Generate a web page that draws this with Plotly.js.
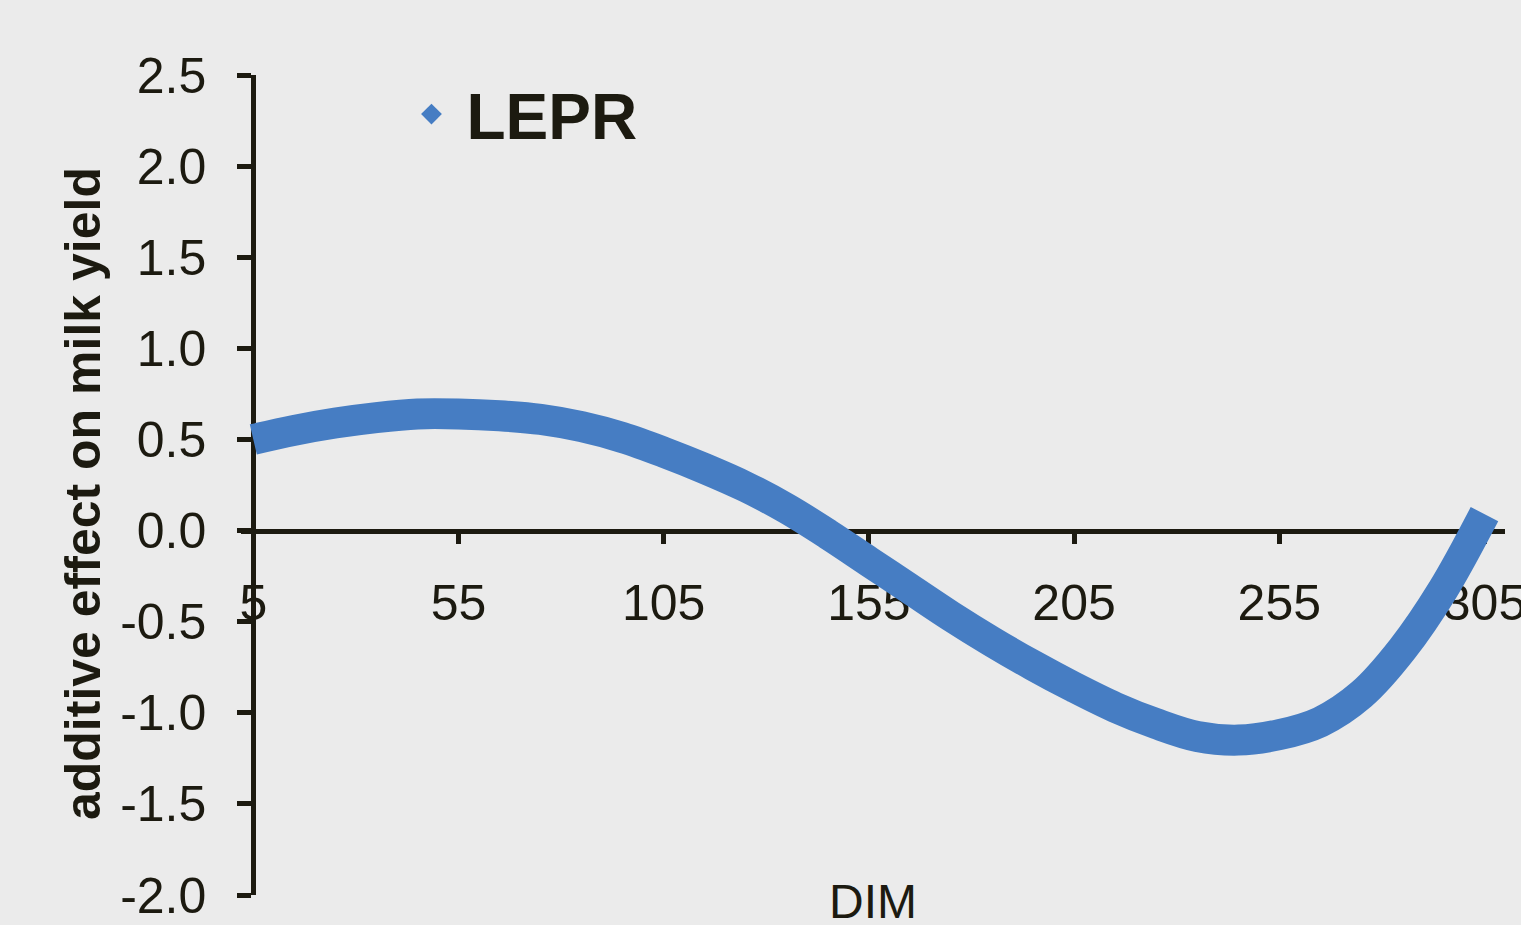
<!DOCTYPE html>
<html>
<head>
<meta charset="utf-8">
<script src="https://cdn.plot.ly/plotly-3.0.1.min.js"></script>
<style>html,body{margin:0;padding:0;background:#ebebeb;}#chart{width:1521px;height:925px;}</style>
</head>
<body>
<div id="chart"></div>
<script>
// Data
const seriesName = "LEPR";
const dim = [5, 15, 25, 35, 45, 55, 65, 75, 85, 95, 105, 115, 125, 135, 145, 155, 165, 175, 185, 195, 205, 215, 225, 235, 245, 255, 265, 275, 285, 295, 305];
const effect = [0.50, 0.55, 0.59, 0.62, 0.64, 0.64, 0.63, 0.61, 0.57, 0.51, 0.43, 0.34, 0.24, 0.12, -0.02, -0.17, -0.32, -0.47, -0.61, -0.74, -0.86, -0.97, -1.06, -1.13, -1.15, -1.12, -1.05, -0.90, -0.65, -0.32, 0.09];
const xTickVals = [5, 55, 105, 155, 205, 255, 305];
const xTickText = ["5", "55", "105", "155", "205", "255", "305"];
const yTickVals = [-2.0, -1.5, -1.0, -0.5, 0.0, 0.5, 1.0, 1.5, 2.0, 2.5];
const yTickText = ["-2.0", "-1.5", "-1.0", "-0.5", "0.0", "0.5", "1.0", "1.5", "2.0", "2.5"];
const xTitle = "DIM";
const yTitle = "additive effect on milk yield";

const blue = "rgb(70,125,195)";
const ink = "#1c1a10";
const fam = "Liberation Sans, Arial, sans-serif";

const traces = [
  {
    x: dim, y: effect, type: "scatter", mode: "lines",
    line: {color: blue, width: 31, shape: "spline", smoothing: 1},
    showlegend: false, hoverinfo: "x+y"
  },
  {
    x: [null], y: [null], type: "scatter", mode: "markers", name: seriesName,
    marker: {symbol: "diamond", size: 22, color: blue}, showlegend: true
  }
];

const layout = {
  width: 1521, height: 925,
  paper_bgcolor: "#ebebeb", plot_bgcolor: "#ebebeb",
  margin: {l: 241, r: 16, t: 75, b: 30, pad: 0},
  font: {family: fam, color: ink},
  showlegend: true,
  legend: {
    x: 0.123, y: 1.011, xanchor: "left", yanchor: "top",
    bgcolor: "rgba(0,0,0,0)", borderwidth: 0,
    font: {size: 64, color: ink, family: fam, weight: "bold"},
    itemwidth: 60
  },
  xaxis: {
    range: [2, 310], anchor: "free", position: 0.4444,
    tickmode: "array", tickvals: xTickVals, ticktext: xTickText,
    showgrid: false, zeroline: false,
    showline: true, linecolor: ink, linewidth: 5, layer: "below traces",
    ticks: "outside", ticklen: 10, tickwidth: 5, tickcolor: ink,
    ticklabelstandoff: 16, ticklabeloverflow: "allow",
    tickfont: {size: 50, color: ink, family: fam}
  },
  yaxis: {
    range: [-2, 2.5], anchor: "free", position: 0.00974,
    tickmode: "array", tickvals: yTickVals, ticktext: yTickText,
    showgrid: false, zeroline: false,
    showline: true, linecolor: ink, linewidth: 5, layer: "below traces",
    ticks: "outside", ticklen: 14, tickwidth: 5, tickcolor: ink,
    ticklabelstandoff: 21,
    tickfont: {size: 50, color: ink, family: fam}
  },
  annotations: [
    {
      text: yTitle, xref: "paper", yref: "paper", x: -0.125, y: 0.489,
      xanchor: "center", yanchor: "middle", textangle: -90, showarrow: false,
      font: {size: 50, color: ink, family: fam, weight: "bold"}
    },
    {
      text: xTitle, xref: "paper", yref: "paper", x: 0.5, y: 0.027,
      xanchor: "center", yanchor: "top", showarrow: false,
      font: {size: 48, color: ink, family: fam}
    }
  ]
};

Plotly.newPlot("chart", traces, layout, {displayModeBar: false, staticPlot: true});
</script>
</body>
</html>
